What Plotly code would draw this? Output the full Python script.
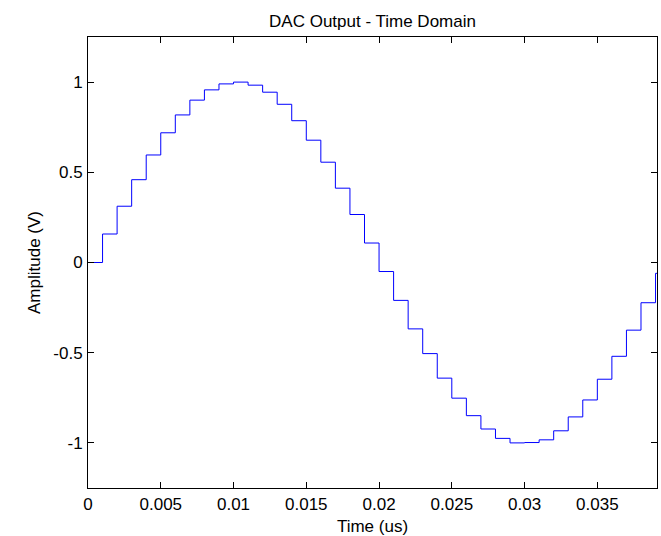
import plotly.graph_objects as go

# Sample times (us) and DAC output levels (V)
time_us = [0.000, 0.001, 0.002, 0.003, 0.004, 0.005, 0.006, 0.007, 0.008, 0.009,
           0.010, 0.011, 0.012, 0.013, 0.014, 0.015, 0.016, 0.017, 0.018, 0.019,
           0.020, 0.021, 0.022, 0.023, 0.024, 0.025, 0.026, 0.027, 0.028, 0.029,
           0.030, 0.031, 0.032, 0.033, 0.034, 0.035, 0.036, 0.037, 0.038, 0.039,
           0.0391]
amplitude_v = [0.000, 0.158, 0.312, 0.459, 0.596, 0.719, 0.818, 0.900, 0.957, 0.990,
               1.000, 0.983, 0.944, 0.877, 0.786, 0.678, 0.556, 0.412, 0.266, 0.108,
               -0.050, -0.210, -0.368, -0.505, -0.641, -0.752, -0.849, -0.923, -0.975, -1.000,
               -0.998, -0.983, -0.933, -0.856, -0.762, -0.647, -0.520, -0.375, -0.223, -0.060,
               -0.060]

x_ticks = [0, 0.005, 0.01, 0.015, 0.02, 0.025, 0.03, 0.035]
x_tick_labels = ["0", "0.005", "0.01", "0.015", "0.02", "0.025", "0.03", "0.035"]
y_ticks = [-1, -0.5, 0, 0.5, 1]
y_tick_labels = ["-1", "-0.5", "0", "0.5", "1"]

FONT = "Liberation Sans, Arial, sans-serif"

fig = go.Figure()
fig.add_trace(go.Scatter(
    x=time_us, y=amplitude_v, mode="lines",
    line=dict(color="#0000ff", width=1, shape="hv"),
    showlegend=False, hoverinfo="x+y",
))

axis_common = dict(
    showline=True, linecolor="black", linewidth=1, mirror="ticks",
    ticks="inside", ticklen=6, tickcolor="black", tickwidth=1,
    showgrid=False, zeroline=False,
    tickfont=dict(family=FONT, size=17, color="black"),
)

fig.update_layout(
    width=661, height=536,
    margin=dict(l=88, r=4, t=37, b=48, pad=0),
    paper_bgcolor="white", plot_bgcolor="white",
    font=dict(family=FONT, size=17, color="black"),
    title=dict(text="DAC Output - Time Domain", x=0.5, xref="paper",
               y=1, yref="paper", yanchor="bottom", pad=dict(b=10),
               font=dict(family=FONT, size=17, color="black")),
    xaxis=dict(range=[0, 0.0391], tickvals=x_ticks, ticktext=x_tick_labels,
               title=dict(text="Time (us)", standoff=7, font=dict(family=FONT, size=17)),
               ticklabelstandoff=1, **axis_common),
    yaxis=dict(range=[-1.25, 1.25], tickvals=y_ticks, ticktext=y_tick_labels,
               title=dict(text="Amplitude (V)", standoff=8, font=dict(family=FONT, size=17)),
               ticklabelstandoff=1, **axis_common),
)

fig.write_html("out.html")
